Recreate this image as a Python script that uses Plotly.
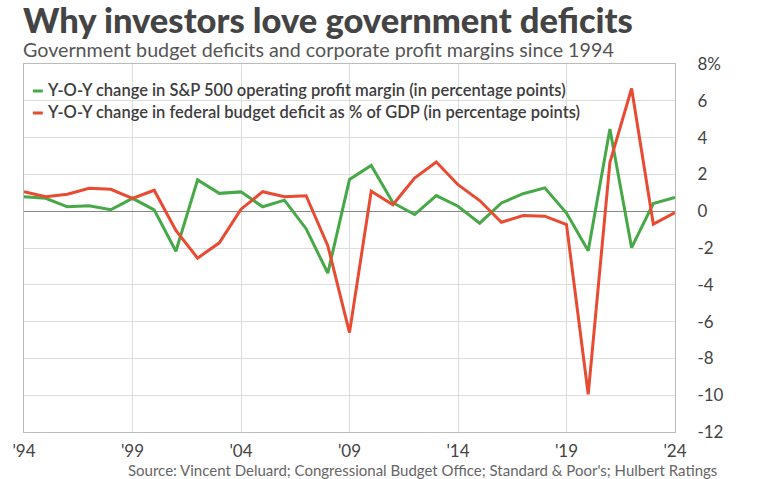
import plotly.graph_objects as go

years = list(range(1994, 2025))
margin_chg = [0.79, 0.70, 0.24, 0.29, 0.08, 0.70, 0.07, -2.18, 1.70, 0.97, 1.05,
              0.24, 0.60, -0.95, -3.37, 1.72, 2.49, 0.46, -0.18, 0.85, 0.27,
              -0.65, 0.45, 0.95, 1.27, -0.10, -2.15, 4.47, -1.98, 0.42, 0.75]
deficit_chg = [1.06, 0.79, 0.92, 1.25, 1.19, 0.70, 1.14, -1.04, -2.55, -1.72, 0.11,
               1.06, 0.79, 0.84, -1.87, -6.6, 1.08, 0.35, 1.80, 2.67, 1.44,
               0.58, -0.60, -0.24, -0.27, -0.73, -9.95, 2.65, 6.67, -0.70, -0.08]

x_tickvals = [1994, 1999, 2004, 2009, 2014, 2019, 2024]
x_ticktext = ["'94", "'99", "'04", "'09", "'14", "'19", "'24"]
y_tickvals = [-12, -10, -8, -6, -4, -2, 0, 2, 4, 6, 8]
y_ticktext = ["-12", "-10", "-8", "-6", "-4", "-2", "0", "2", "4", "6", "8%"]

series_names = [
    "Y-O-Y change in S&P 500 operating profit margin (in percentage points)",
    "Y-O-Y change in federal budget deficit as % of GDP (in percentage points)",
]
GREEN = "#46a846"
RED = "#e84a32"

title = "Why investors love government deficits"
subtitle = "Government budget deficits and corporate profit margins since 1994"
source = "Source: Vincent Deluard; Congressional Budget Office; Standard & Poor's; Hulbert Ratings"

W, H = 760, 479
ML, MR, MT, MB = 18, 85, 64, 47
PW = W - ML - MR
PH = H - MT - MB


def px(xp):
    return (xp - ML) / PW


def py(yp):
    return (H - MB - yp) / PH


fig = go.Figure()
fig.add_trace(go.Scatter(x=years, y=margin_chg, mode="lines", name=series_names[0],
                         line=dict(color=GREEN, width=3)))
fig.add_trace(go.Scatter(x=years, y=deficit_chg, mode="lines", name=series_names[1],
                         line=dict(color=RED, width=3)))

FONT = "Lato"
legend_rows = [(series_names[0], GREEN, 90), (series_names[1], RED, 112)]
annotations = [
    dict(text=title, x=px(15), y=py(20), xanchor="left", yanchor="middle",
         font=dict(family=FONT, size=34.5, color="#444444", weight=900)),
    dict(text=subtitle, x=px(15), y=py(50), xanchor="left", yanchor="middle",
         font=dict(family=FONT, size=19.7, color="#555555")),
    dict(text=source, x=px(719), y=py(470), xanchor="right", yanchor="middle",
         font=dict(family=FONT, size=15, color="#666666")),
]
shapes = []
for name, color, ypix in legend_rows:
    annotations.append(dict(text=name, x=px(39), y=py(ypix), xanchor="left", yanchor="middle",
                            font=dict(family=FONT, size=16.5, color="#3d3d3d", weight=600)))
    shapes.append(dict(type="line", xref="paper", yref="paper",
                       x0=px(27), x1=px(37), y0=py(ypix + 1), y1=py(ypix + 1),
                       line=dict(color=color, width=3)))
for a in annotations:
    a.update(xref="paper", yref="paper", showarrow=False)

fig.update_layout(
    width=W, height=H,
    margin=dict(l=ML, r=MR, t=MT, b=MB),
    paper_bgcolor="white", plot_bgcolor="white",
    showlegend=False,
    annotations=annotations,
    shapes=shapes,
    font=dict(family=FONT, color="#444444"),
)
fig.update_xaxes(range=[1994, 2024], tickvals=x_tickvals, ticktext=x_ticktext,
                 showgrid=True, gridcolor="#dddddd", gridwidth=1,
                 showline=True, linecolor="#bbbbbb", linewidth=1, mirror=True,
                 ticks="", ticklabelstandoff=4,
                 tickfont=dict(family=FONT, size=17, color="#444444"),
                 zeroline=False)
fig.update_yaxes(range=[-12, 8], tickvals=y_tickvals, ticktext=y_ticktext, side="right",
                 showgrid=True, gridcolor="#dddddd", gridwidth=1,
                 showline=True, linecolor="#bbbbbb", linewidth=1, mirror=True,
                 ticks="", ticklabelstandoff=18,
                 tickfont=dict(family=FONT, size=17, color="#444444"),
                 zeroline=True, zerolinecolor="#888888", zerolinewidth=1)

fig.write_html("out.html")
